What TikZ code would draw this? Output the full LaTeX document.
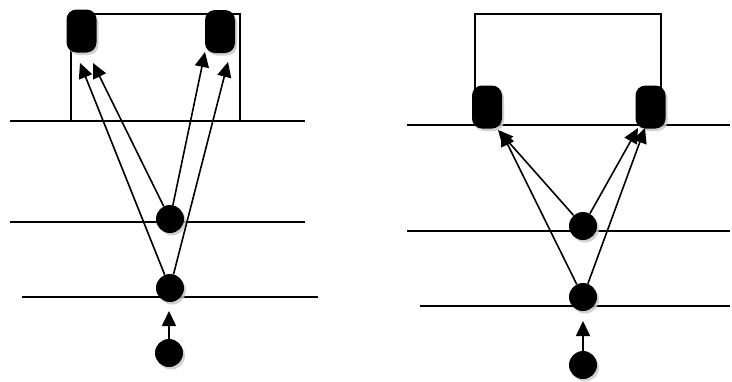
\documentclass[tikz,border=0pt]{standalone}
\usetikzlibrary{arrows.meta,shadows}
\begin{document}
\begin{tikzpicture}[x=1pt,y=-1pt,
  hline/.style={line width=1.6pt},
  frame/.style={line width=1.6pt},
  can/.style={fill=black, rounded corners=10pt, minimum width=30pt, minimum height=43pt, inner sep=0pt,
    drop shadow={shadow xshift=2pt, shadow yshift=-2.5pt, fill=gray!45, opacity=0.8}},
  dot/.style={circle, fill=black, minimum size=28pt, inner sep=0pt,
    drop shadow={shadow xshift=2pt, shadow yshift=-2.5pt, fill=gray!45, opacity=0.8}},
  conn/.style={line width=1.6pt, -{Triangle[length=15pt,width=14pt]}}]
\useasboundingbox (0,0) rectangle (732,381);

% ---------- left panel ----------
\draw[hline] (10,121) -- (305,121);
\draw[hline] (10,222) -- (305,222);
\draw[hline] (22,297) -- (318,297);
\draw[frame] (71,121) -- (71,14) -- (240,14) -- (240,121);
\node[can] (lc1) at (81.5,31) {};
\node[can] (lc2) at (220,31.5) {};
\node[dot] (lm) at (170,219) {};
\node[dot] (ll) at (170,288) {};
\node[dot] (lb) at (169,353) {};
\coordinate (lt1) at (80,63);
\coordinate (lt2) at (93,63);
\coordinate (lt3) at (205,52);
\coordinate (lt4) at (228,62);
\coordinate (lt5) at (169,311);
\draw[conn] (ll) -- (lt1);
\draw[conn] (lm) -- (lt2);
\draw[conn] (lm) -- (lt3);
\draw[conn] (ll) -- (lt4);
\draw[conn] (lb) -- (lt5);

% ---------- right panel ----------
\draw[hline] (407,125) -- (730,125);
\draw[hline] (407,231) -- (730,231);
\draw[hline] (420,306) -- (730,306);
\draw[frame] (475,125) -- (475,14) -- (661,14) -- (661,125);
\node[can] (rc1) at (487,107) {};
\node[can] (rc2) at (650.5,107) {};
\node[dot] (rm) at (583,226) {};
\node[dot] (rl) at (583,297) {};
\node[dot] (rb) at (583,365) {};
\coordinate (rt1) at (498,130);
\coordinate (rt2) at (501,131);
\coordinate (rt3) at (638,128);
\coordinate (rt4) at (645,128);
\coordinate (rt5) at (583,321);
\draw[conn] (rm) -- (rt1);
\draw[conn] (rl) -- (rt2);
\draw[conn] (rm) -- (rt3);
\draw[conn] (rl) -- (rt4);
\draw[conn] (rb) -- (rt5);
\end{tikzpicture}
\end{document}
